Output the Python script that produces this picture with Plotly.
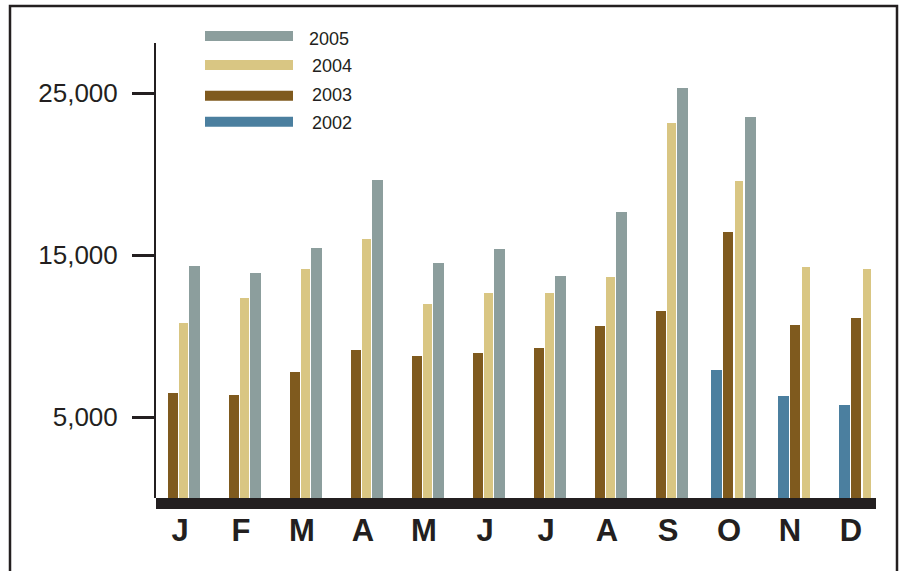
import plotly.graph_objects as go

# ---------------- data ----------------
months = ["J", "F", "M", "A", "M ", "J ", "J  ", "A ", "S", "O", "N", "D"]
month_labels = ["J", "F", "M", "A", "M", "J", "J", "A", "S", "O", "N", "D"]
years = ["2002", "2003", "2004", "2005"]
v2002 = [None, None, None, None, None, None, None, None, None, 7920, 6320, 5760]
v2003 = [6500, 6380, 7800, 9150, 8780, 8970, 9280, 10640, 11560, 16440, 10700, 11130]
v2004 = [10820, 12360, 14150, 16000, 11990, 12670, 12670, 13660, 23170, 19590, 14280, 14150]
v2005 = [14340, 13910, 15450, 19650, 14530, 15390, 13720, 17670, 25330, 23540, None, None]
tick_vals = [5000, 15000, 25000]
tick_text = ["5,000", "15,000", "25,000"]

series = {"2002": v2002, "2003": v2003, "2004": v2004, "2005": v2005}
colors = {"2002": "#4b7f9f", "2003": "#7f5a1e", "2004": "#d9c683", "2005": "#8c9e9d"}
bar_px = {"2002": 11, "2003": 10, "2004": 8.5, "2005": 11}
gap_px = 1.5
group_shift_px = 4

# ---------------- geometry ----------------
W, H = 902, 571
L, R, T, B = 156, 26, 43, 73
pw, ph = W - L - R, H - T - B
ppu = 61.0
x0 = -(180 - L) / ppu
x_range = [x0, x0 + pw / ppu]
y_max = ph / 0.0162
ink = "#231f20"
font_fam = "Liberation Sans, Arial, Helvetica, sans-serif"


def px_x(px):
    return (px - L) / pw


def px_y(py):
    return (H - B - py) / ph


# per-month offsets so that the bars present in a month are centred as a group
offsets = {y: [0.0] * len(months) for y in years}
widths = {y: [0.1] * len(months) for y in years}
for i in range(len(months)):
    present = [y for y in years if series[y][i] is not None]
    total = sum(bar_px[y] for y in present) + gap_px * (len(present) - 1)
    start = -total / 2 + group_shift_px
    for y in present:
        offsets[y][i] = start / ppu
        widths[y][i] = bar_px[y] / ppu
        start += bar_px[y] + gap_px

fig = go.Figure()
for y in years:
    fig.add_trace(go.Bar(
        x=months, y=series[y], name=y,
        offset=offsets[y], width=widths[y],
        marker=dict(color=colors[y], line=dict(width=0)),
        showlegend=False,
    ))

shapes = []
# thick baseline
shapes.append(dict(type="rect", xref="paper", yref="paper",
                   x0=0, x1=1, y0=px_y(509), y1=px_y(498),
                   fillcolor=ink, line=dict(width=0), layer="above"))
# outer frame
shapes.append(dict(type="rect", xref="paper", yref="paper",
                   x0=px_x(10), x1=px_x(897), y0=px_y(590), y1=px_y(6),
                   fillcolor="rgba(0,0,0,0)", line=dict(color=ink, width=2.5)))

annotations = []
legend_rows = [("2005", 36, 39.3, 307), ("2004", 65, 66, 310),
               ("2003", 95.7, 95, 310), ("2002", 121.7, 123.3, 310)]
for name, sy, ty, tx in legend_rows:
    shapes.append(dict(type="rect", xref="paper", yref="paper",
                       x0=px_x(205), x1=px_x(293), y0=px_y(sy + 5), y1=px_y(sy - 5),
                       fillcolor=colors[name], line=dict(width=0)))
    annotations.append(dict(xref="paper", yref="paper", x=px_x(tx), y=px_y(ty),
                            xanchor="left", yanchor="middle", showarrow=False,
                            text=name, font=dict(family=font_fam, size=18, color=ink)))

fig.update_layout(
    width=W, height=H, autosize=False,
    margin=dict(l=L, r=R, t=T, b=B, pad=0),
    paper_bgcolor="white", plot_bgcolor="white",
    barmode="overlay",
    bargap=0,
    shapes=shapes,
    annotations=annotations,
    xaxis=dict(
        type="category", range=x_range,
        tickvals=months, ticktext=month_labels,
        showline=False, showgrid=False, zeroline=False, ticks="",
        tickfont=dict(family=font_fam, size=31, color=ink, weight="bold"),
        ticklabelstandoff=11,
    ),
    yaxis=dict(
        range=[0, y_max],
        tickvals=tick_vals, ticktext=tick_text,
        showline=True, linecolor=ink, linewidth=2,
        ticks="outside", ticklen=22, tickwidth=2.5, tickcolor=ink,
        showgrid=False, zeroline=False,
        tickfont=dict(family=font_fam, size=26, color=ink),
        ticklabelstandoff=9,
    ),
)

fig.write_html("out.html", config={"displayModeBar": False},
               post_script="document.body.style.margin='0';document.body.style.overflow='hidden';")
